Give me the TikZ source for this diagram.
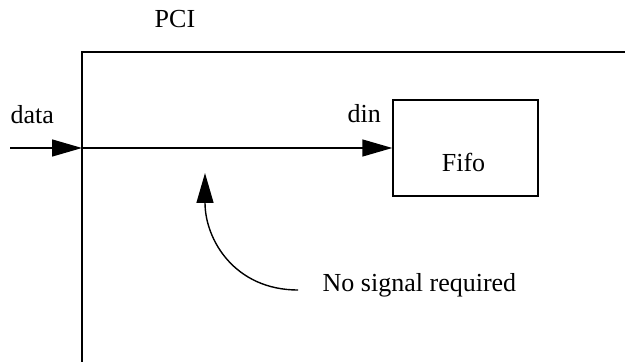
\documentclass[tikz,border=0pt]{standalone}
\usepackage{fontspec}
\setmainfont{Liberation Serif}
\usepackage{tikz}
\usetikzlibrary{arrows.meta, positioning}

\begin{document}
\begin{tikzpicture}[>={Triangle[length=15pt, width=8.5pt]}, x=0.5pt, y=-0.5pt, font=\fontsize{13}{15}\selectfont]
    \tikzstyle{label} = [inner sep=0pt, anchor=base west, text=black]
    \tikzstyle{block} = [draw, line width=0.7pt, rectangle, minimum width=72.5pt, minimum height=48pt, inner sep=0pt]
    \tikzset{every path/.style = {line width=0.7pt}}

    \useasboundingbox (0,0) rectangle (625,362);

    % PCI outline
    \node[label] (pci) at (154,28) {PCI};
    \draw (82,362) -- (82,52) -- (625,52);

    % Fifo
    \node[block] (fifo) at (465.5,148) {};
    \node[inner sep=0pt, anchor=base] (fifolbl) at (463.5,172) {Fifo};

    % Ports
    \node[label] (data) at (10,124) {data};
    \node[label] (din) at (347,123) {din};
    \coordinate (src) at (10,148);
    \coordinate (port) at (82,148);

    % Note
    \node[label] (nosig) at (322,292) {No signal required};
    \coordinate (bend) at (298,290);
    \coordinate (hint) at (205,173);

    % Edges
    \draw[->] (src) -- (port);
    \draw[->] (port) -- (fifo.west);
    \draw[->] (bend) .. controls (235,290) and (205,240) .. (hint);
\end{tikzpicture}
\end{document}
